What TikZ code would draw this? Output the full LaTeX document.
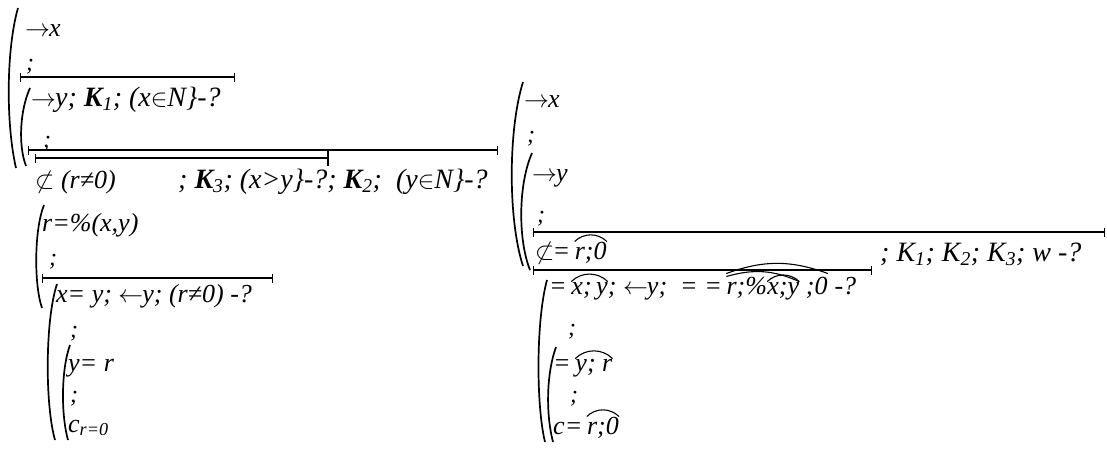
\documentclass[tikz,border=0pt]{standalone}
\usepackage{fontspec}
\setmainfont{Liberation Serif}[UprightFont={Liberation Serif},ItalicFont={Liberation Serif Italic},BoldFont={Liberation Serif Bold},BoldItalicFont={Liberation Serif Bold Italic}]
\usetikzlibrary{arrows.meta}
\newcommand\Kk[1]{K\textsubscript{#1}}
\newcommand\Kb[1]{\textbf{K}\textsubscript{#1}}
\newcommand\ra{$\rightarrow$\kern-1pt}
\newcommand\la{$\leftarrow$\kern-1pt}
\begin{document}
\begin{tikzpicture}[x=1pt,y=-1pt,
  txt/.style={anchor=base west,inner sep=0pt,font=\fontsize{26}{30}\selectfont\itshape},
  ktxt/.style={anchor=base west,inner sep=0pt,font=\fontsize{28}{32}\selectfont\itshape},
  semi/.style={anchor=base west,inner sep=0pt,font=\fontsize{24}{28}\selectfont\itshape},
  tk/.style={line width=1.8pt,{Bar[width=9pt,line width=1.2pt]}-{Bar[width=9pt,line width=1.2pt]}},
  brk/.style={line width=1.7pt},
  arcst/.style={line width=1.1pt}]
\fill[white] (0,0) rectangle (1107,450);
\useasboundingbox (0,0) rectangle (1107,450);
% ---------- left part ----------
\draw[brk] (18,8) .. controls (6,50) and (6,125) .. (16,168);
\draw[brk] (30,88) .. controls (20,110) and (18,145) .. (26,166);
\node[txt] (a1) at (25,36) {\ra x};
\node[semi] (a2) at (26,70) {;};
\draw[tk] (20,77) -- (235,77);
\node[ktxt] (a3) at (31,106) {\ra y; \Kb{1}; (x$\in$N\}-?};
\node[semi] (a4) at (43,147) {;};
\draw[tk] (28,150) -- (498,150);
\draw[tk] (35,158) -- (328,158);
\draw[line width=1.8pt] (328,150) -- (328,166);
\node[txt] (a5) at (35,188) {$\not\subset$ (r≠0)};
\node[ktxt] (a6) at (178,188) {; \Kb{3}; (x>y\}-?; \Kb{2};\ \ (y$\in$N\}-?};
% ---------- bottom left ----------
\draw[brk] (44,205) .. controls (34,230) and (34,285) .. (42,308);
\node[txt] (b1) at (42,231) {r=\%(x,y)};
\node[semi] (b2) at (49,265) {;};
\draw[tk] (42,278) -- (273,278);
\draw[brk] (57,284) .. controls (45,320) and (45,405) .. (55,440);
\node[txt] (b3) at (56,302) {x= y; \la y; (r≠0) -?};
\node[semi] (b4) at (70,337) {;};
\draw[brk] (70,345) .. controls (61,370) and (61,415) .. (68,440);
\node[txt] (b5) at (68,371) {y= r};
\node[semi] (b6) at (70,402) {;};
\node[txt] (b7) at (68,432) {c\textsubscript{r=0}};
% ---------- right part ----------
\draw[brk] (523,82) .. controls (508,130) and (508,220) .. (523,266);
\draw[brk] (532,153) .. controls (518,185) and (518,240) .. (530,270);
\node[txt] (r1) at (524,107) {\ra x};
\node[semi] (r2) at (527,142) {;};
\node[txt] (r3) at (532,181) {\ra y};
\node[semi] (r4) at (537,222) {;};
\draw[tk] (533,232) -- (1105,232);
\node[txt] (r5a) at (535,259) {$\not\subset$\kern-2pt=\,};
\node[txt] (r5b) at (r5a.base east) {r;0};
\draw[arcst] (r5b.north west) to[bend left=45] (r5b.north east);
\node[ktxt] (r6) at (880,261) {; \Kk{1}; \Kk{2}; \Kk{3}; w -?};
\draw[tk] (533,270) -- (872,270);
\draw[brk] (547,280) .. controls (536,320) and (536,405) .. (545,442);
\node[txt] (r7a) at (549,294) {=\,};
\node[txt] (r7b) at (r7a.base east) {x;\,y};
\node[txt] (r7c) at (r7b.base east) {; \la y; \ = =\,};
\node[txt] (r7d) at (r7c.base east) {r;\%};
\node[txt] (r7e) at (r7d.base east) {x;y};
\node[txt] (r7f) at (r7e.base east) {\ ;0};
\node[txt] (r7g) at (r7f.base east) {\ -?};
\draw[arcst] (r7b.north west) to[bend left=45] (r7b.north east);
\draw[arcst] ([yshift=3pt]r7d.north west) to[bend left=20] ([yshift=3pt]r7f.north east);
\draw[arcst] (r7d.north west) to[bend left=20] (r7e.north east);
\draw[arcst] (r7e.north west) to[bend left=45] (r7e.north east);
\node[semi] (r8) at (568,335) {;};
\draw[brk] (556,347) .. controls (546,375) and (546,415) .. (553,442);
\node[txt] (r9a) at (553,371) {=\,};
\node[txt] (r9b) at (r9a.base east) {y; r};
\draw[arcst] (r9b.north west) to[bend left=45] (r9b.north east);
\node[semi] (r10) at (570,402) {;};
\node[txt] (r11a) at (553,434) {c=\,};
\node[txt] (r11b) at (r11a.base east) {r;0};
\draw[arcst] (r11b.north west) to[bend left=45] (r11b.north east);
\end{tikzpicture}
\end{document}
